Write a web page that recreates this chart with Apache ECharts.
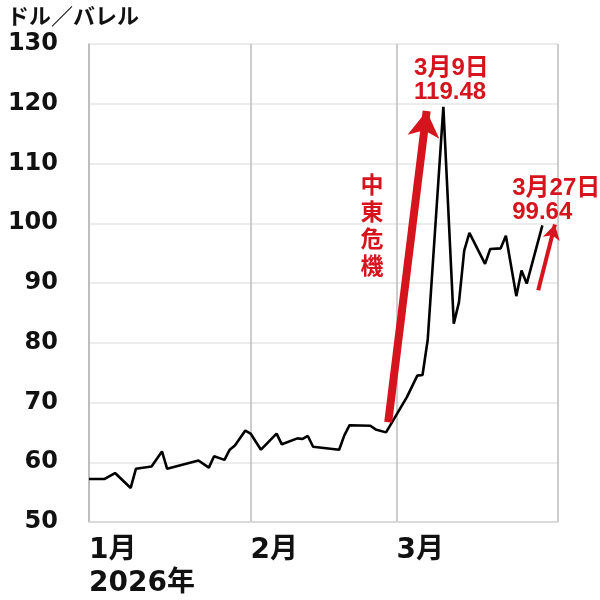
<!DOCTYPE html>
<html>
<head>
<meta charset="utf-8">
<script src="https://cdn.jsdelivr.net/npm/echarts@6.0.0/dist/echarts.min.js"></script>
<style>html,body{margin:0;padding:0;background:#fff;}#c{width:600px;height:600px;}</style>
</head>
<body>
<div id="c"></div>
<script>
// 日付（グラフ上の位置から読み取り）
const dates = ['2026-01-01','2026-01-04','2026-01-06','2026-01-09','2026-01-10','2026-01-13','2026-01-15','2026-01-16','2026-01-22','2026-01-24','2026-01-25','2026-01-27','2026-01-28','2026-01-29','2026-01-31',
  '2026-02-01','2026-02-03','2026-02-06','2026-02-07','2026-02-10','2026-02-11','2026-02-12','2026-02-13','2026-02-18','2026-02-19','2026-02-20','2026-02-24','2026-02-25','2026-02-27',
  '2026-03-03','2026-03-05','2026-03-06','2026-03-07','2026-03-10','2026-03-12','2026-03-13','2026-03-14','2026-03-15','2026-03-18','2026-03-19','2026-03-21','2026-03-22','2026-03-24','2026-03-25','2026-03-26','2026-03-29'];
// 原油価格（ドル／バレル）
const prices = [57.2,57.2,58.2,55.7,58.9,59.3,61.8,58.9,60.3,59.1,61.0,60.4,62.1,62.8,65.3,
  64.8,62.1,64.8,63.0,64.0,63.9,64.4,62.6,62.1,64.5,66.2,66.1,65.5,65.0,
  70.9,74.5,74.6,80.5,119.48,83.2,86.8,95.4,98.4,93.2,95.7,95.8,97.9,87.8,92.1,89.9,99.64];
const yTicks = [50,60,70,80,90,100,110,120,130];
const unitLabel = 'ドル／バレル';
const crisisLabel = '中東危機';
const peakLabel = '3月9日\n119.48';
const lastLabel = '3月27日\n99.64';
// annotation anchors (data space)
const bigArrow = [['2026-02-27 10:00', 66.7], ['2026-03-06 19:00', 118.8]];
const smallArrow = [['2026-03-28 05:00', 88.8], ['2026-03-31 10:00', 99.8]];
const peakAnchor = ['2026-03-04 09:00', 123.9];
const crisisAnchor = ['2026-02-24 07:00', 99.8];
const lastAnchor = ['2026-03-23 05:00', 103.9];

const RED = '#d5141d';
const chart = echarts.init(document.getElementById('c'), null, {renderer: 'canvas'});
const ff = '"DejaVu Sans", "Noto Sans CJK JP", sans-serif';
const af = '"Liberation Sans", "Noto Sans CJK JP", sans-serif';
chart.setOption({
  animation: false,
  backgroundColor: '#fff',
  title: {
    text: unitLabel, left: 2, top: 0,
    textStyle: {fontSize: 22, fontWeight: 'bold', color: '#111', fontFamily: '"Noto Sans CJK JP", sans-serif'}
  },
  grid: {left: 89, right: 42, top: 44, bottom: 72, containLabel: false},
  xAxis: {
    type: 'time',
    min: '2026-01-01', max: '2026-04-01',
    splitNumber: 3,
    axisLine: {show: true, lineStyle: {color: '#d4d4d4', width: 1.5}},
    axisTick: {show: false},
    splitLine: {show: true, lineStyle: {color: '#bdbdbd', width: 1.5}},
    axisLabel: {
      align: 'left', margin: 12,
      color: '#111', fontSize: 28, fontWeight: 'bold', fontFamily: ff, lineHeight: 33,
      verticalAlign: 'top',
      formatter: function (v) {
        const d = new Date(v); const m = d.getMonth() + 1;
        if (m === 4 || d.getDate() !== 1) return '';
        return m === 1 ? '1月\n2026年' : m + '月';
      }
    }
  },
  yAxis: {
    type: 'value', min: yTicks[0], max: yTicks[yTicks.length - 1], interval: 10,
    axisLine: {show: true, lineStyle: {color: '#bdbdbd', width: 1.5}},
    axisTick: {show: false},
    splitLine: {show: true, lineStyle: {color: '#e6e6e6', width: 1.5}},
    axisLabel: {margin: 31, color: '#111', fontSize: 24, fontWeight: 'bold', fontFamily: ff}
  },
  series: [{
    type: 'line',
    data: dates.map((d, i) => [d, prices[i]]),
    showSymbol: false, symbol: 'none',
    lineStyle: {color: '#000', width: 2.6},
    z: 3,
    markLine: {
      silent: true, animation: false,
      label: {show: false},
      data: [
        [{coord: bigArrow[0], symbol: 'none', lineStyle: {color: RED, width: 8}},
         {coord: bigArrow[1], symbol: 'arrow', symbolSize: [24, 26]}],
        [{coord: smallArrow[0], symbol: 'none', lineStyle: {color: RED, width: 4}},
         {coord: smallArrow[1], symbol: 'arrow', symbolSize: [13, 15]}]
      ],
      lineStyle: {type: 'solid', color: RED},
      itemStyle: {color: RED}
    },
    markPoint: {
      silent: true, animation: false,
      symbol: 'circle', symbolSize: 0,
      data: [
        {coord: peakAnchor, label: {show: true, position: 'inside', align: 'left', verticalAlign: 'middle', formatter: peakLabel, color: RED, fontSize: 24, fontWeight: 'bold', fontFamily: af, lineHeight: 24}},
        {coord: crisisAnchor, label: {show: true, position: 'inside', align: 'center', verticalAlign: 'middle', formatter: crisisLabel.split('').join('\n'), color: RED, fontSize: 23, fontWeight: 'bold', fontFamily: '"Noto Sans CJK JP", sans-serif', lineHeight: 27}},
        {coord: lastAnchor, label: {show: true, position: 'inside', align: 'left', verticalAlign: 'middle', formatter: lastLabel, color: RED, fontSize: 24, fontWeight: 'bold', fontFamily: af, lineHeight: 24}}
      ]
    }
  }]
});
</script>
</body>
</html>
